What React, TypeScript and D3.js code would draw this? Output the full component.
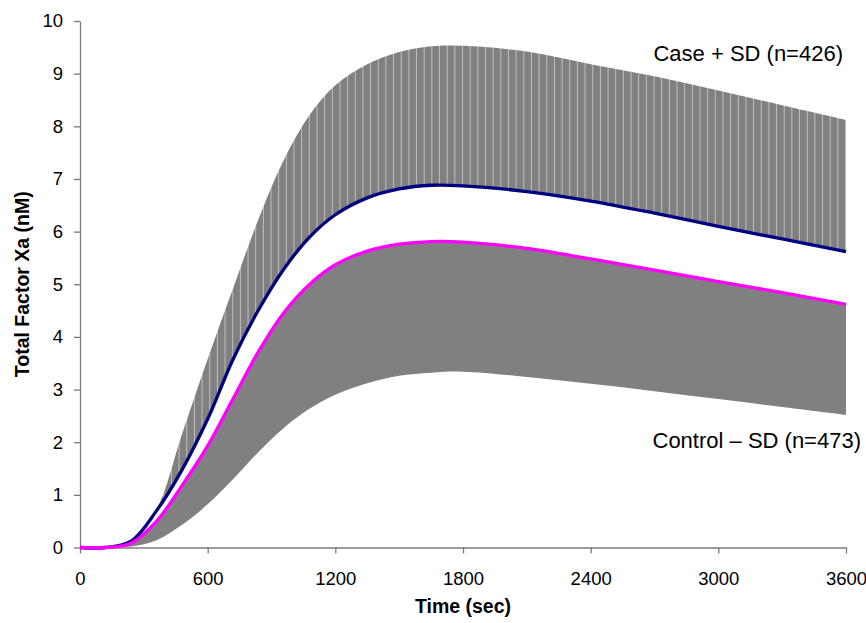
import * as d3 from "d3";
import { useEffect, useRef } from "react";

// time points (sec)
const times = [0, 120, 240, 360, 480, 600, 720, 840, 960, 1080, 1200, 1350, 1500, 1650, 1800, 2100, 2400, 2700, 3000, 3300, 3600];
// case mean (navy) and case + SD
const caseMean = [0, 0, 0.12, 0.7, 1.48, 2.44, 3.58, 4.52, 5.3, 5.9, 6.32, 6.64, 6.81, 6.88, 6.87, 6.76, 6.58, 6.35, 6.1, 5.86, 5.62];
const casePlusSD = [0, 0, 0.1, 0.72, 2.16, 3.58, 4.93, 6.25, 7.38, 8.22, 8.78, 9.18, 9.41, 9.52, 9.53, 9.42, 9.18, 8.95, 8.68, 8.4, 8.12];
// control mean (magenta) and control - SD
const controlMean = [0, 0, 0.08, 0.5, 1.18, 1.93, 2.83, 3.73, 4.47, 5.0, 5.37, 5.63, 5.76, 5.81, 5.8, 5.68, 5.48, 5.27, 5.05, 4.84, 4.62];
const controlMinusSD = [0, 0, 0.02, 0.14, 0.43, 0.82, 1.3, 1.82, 2.28, 2.64, 2.9, 3.12, 3.26, 3.32, 3.34, 3.24, 3.11, 2.97, 2.82, 2.67, 2.52];

const xTicks = [0, 600, 1200, 1800, 2400, 3000, 3600];
const yTicks = [0, 1, 2, 3, 4, 5, 6, 7, 8, 9, 10];
const hatchStep = 36; // sec between the light stripes of the case band

const W = 866, H = 623;
const FONT = "Arial, 'Liberation Sans', sans-serif";

export default function App() {
    const ref = useRef<SVGSVGElement>(null);

    useEffect(() => {
        const svg = d3.select(ref.current);
        svg.selectAll("*").remove();

        const x = d3.scaleLinear().domain([0, 3600]).range([80, 846]);
        const y = d3.scaleLinear().domain([0, 10]).range([547.5, 21]);

        const rows = times.map((t, i) => ({
            t, cm: caseMean[i], cu: casePlusSD[i], km: controlMean[i], kl: controlMinusSD[i]
        }));
        type Row = typeof rows[number];

        // hatch pattern for the case band
        const step = x(hatchStep) - x(0);
        const pat = svg.append("defs").append("pattern")
            .attr("id", "hatch")
            .attr("patternUnits", "userSpaceOnUse")
            .attr("x", x(0))
            .attr("y", 0)
            .attr("width", step)
            .attr("height", 10);
        pat.append("rect").attr("width", step).attr("height", 10).attr("fill", "#808080");
        pat.append("rect").attr("x", step - 1).attr("width", 1).attr("height", 10).attr("fill", "#bfbfbf");

        const curve = d3.curveCatmullRom.alpha(0.5);

        const caseArea = d3.area<Row>()
            .x(d => x(d.t)).y0(d => y(d.cm)).y1(d => y(d.cu)).curve(curve);
        const ctrlArea = d3.area<Row>()
            .x(d => x(d.t)).y0(d => y(d.kl)).y1(d => y(d.km)).curve(curve);

        svg.append("path").attr("d", caseArea(rows)!).attr("fill", "url(#hatch)");
        svg.append("path").attr("d", ctrlArea(rows)!).attr("fill", "#808080");

        // axes
        const axisColor = "#7a7a7a";
        const gx = svg.append("g").attr("transform", `translate(0,${y(0)})`)
            .call(d3.axisBottom(x).tickValues(xTicks).tickFormat(d3.format("d")).tickSize(6).tickSizeOuter(0).tickPadding(14));
        const gy = svg.append("g").attr("transform", `translate(${x(0)},0)`)
            .call(d3.axisLeft(y).tickValues(yTicks).tickSize(6).tickSizeOuter(0).tickPadding(11));
        [gx, gy].forEach(g => {
            g.select(".domain").attr("stroke", axisColor).attr("stroke-width", 1.3);
            g.selectAll(".tick line").attr("stroke", axisColor).attr("stroke-width", 1.3);
            g.selectAll(".tick text")
                .attr("fill", "#000")
                .style("font-family", FONT)
                .style("font-size", "18.5px");
        });
        gx.selectAll(".tick text").attr("dy", "0.95em");

        // mean lines
        const line = (f: (d: Row) => number) => d3.line<Row>().x(d => x(d.t)).y(d => y(f(d))).curve(curve);
        svg.append("path").attr("d", line(d => d.cm)(rows)!)
            .attr("fill", "none").attr("stroke", "#000080").attr("stroke-width", 3.3);
        svg.append("path").attr("d", line(d => d.km)(rows)!)
            .attr("fill", "none").attr("stroke", "#ff00ff").attr("stroke-width", 3.3);

        // titles
        svg.append("text")
            .attr("x", (x(0) + x(3600)) / 2).attr("y", 613)
            .attr("text-anchor", "middle")
            .style("font-family", FONT).style("font-size", "19.5px").style("font-weight", "bold")
            .text("Time (sec)");
        svg.append("text")
            .attr("transform", `translate(29,${(y(0) + y(10)) / 2}) rotate(-90)`)
            .attr("text-anchor", "middle")
            .style("font-family", FONT).style("font-size", "19.5px").style("font-weight", "bold")
            .text("Total Factor Xa (nM)");

        // annotations
        svg.append("text")
            .attr("x", 843).attr("y", 61)
            .attr("text-anchor", "end")
            .style("font-family", FONT).style("font-size", "22px")
            .text("Case + SD (n=426)");
        svg.append("text")
            .attr("x", 861).attr("y", 448)
            .attr("text-anchor", "end")
            .style("font-family", FONT).style("font-size", "22px")
            .text("Control \u2013 SD (n=473)");
    }, []);

    return (
        <svg ref={ref} width={W} height={H}
            style={{ position: "absolute", left: 0, top: 0, background: "#fff" }} />
    );
}
